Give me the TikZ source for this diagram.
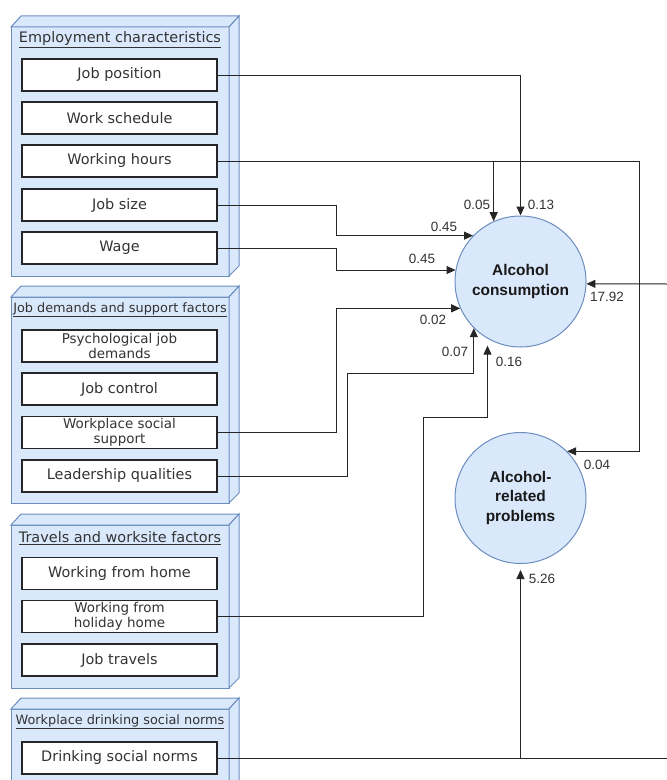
\documentclass[tikz,border=0pt]{standalone}
\usepackage{fontspec}
\usetikzlibrary{arrows.meta}
\newfontfamily\boxfont{DejaVu Sans}
\newfontfamily\numfont{Liberation Sans}
\definecolor{pkgfill}{HTML}{DAE8FC}
\definecolor{pkgline}{HTML}{6C8EBF}
\definecolor{txtgray}{HTML}{333333}

\tikzset{
  item/.style={draw=black!85, fill=white, line width=1.2bp, minimum width=195bp, minimum height=32bp,
    inner sep=0pt, align=center, text=txtgray, font=\boxfont\fontsize{14.5}{15}\selectfont},
  item2/.style={item, font=\boxfont\fontsize{13.5}{15}\selectfont},
  latent/.style={circle, draw=pkgline, fill=pkgfill, line width=1bp, minimum size=131bp, inner sep=0pt,
    align=center, text=black!90, font=\numfont\bfseries\fontsize{15.5}{19.5}\selectfont},
  coef/.style={inner sep=0pt, text=txtgray, font=\numfont\fontsize{13.5}{15}\selectfont},
  grouptitle/.style={inner sep=0pt, text=txtgray, font=\boxfont\fontsize{14.5}{16}\selectfont},
  smalltitle/.style={grouptitle, font=\boxfont\fontsize{12.9}{15}\selectfont},
  link/.style={draw=black!85, line width=1bp},
  arr/.style={link, -{Triangle[length=9bp,width=8bp]}},
}

% 3d group box: front top y, front bottom y
\newcommand\groupcube[2]{%
  \filldraw[fill=pkgfill, draw=pkgline, line width=1bp] (11,#1) rectangle (229,#2);
  \filldraw[fill=pkgfill, draw=pkgline, line width=1bp] (11,#1) -- (21,{#1-11}) -- (239,{#1-11}) -- (229,#1) -- cycle;
  \filldraw[fill=pkgfill, draw=pkgline, line width=1bp] (229,#1) -- (239,{#1-11}) -- (239,{#2-10}) -- (229,#2) -- cycle;
}

\begin{document}
\begin{tikzpicture}[x=1bp,y=-1bp]
  \clip (0,0) rectangle (667,780);
  \fill[white] (0,0) rectangle (667,780);

  % groups
  \groupcube{27}{276}
  \groupcube{297}{503}
  \groupcube{525}{688}
  \groupcube{709}{800}

  \node[grouptitle] (gEmp) at (120,40) {\underline{Employment characteristics}};
  \node[smalltitle] (gDem) at (120,310) {\underline{Job demands and support factors}};
  \node[grouptitle] (gTrv) at (120,538) {\underline{Travels and worksite factors}};
  \node[smalltitle] (gNrm) at (120,722) {\underline{Workplace drinking social norms}};

  % items
  \node[item] (jobpos) at (119.5,75) {Job position};
  \node[item] (sched) at (119.5,118) {Work schedule};
  \node[item] (hours) at (119.5,161) {Working hours};
  \node[item] (jobsize) at (119.5,205) {Job size};
  \node[item] (wage) at (119.5,248) {Wage};

  \node[item2] (psych) at (119.5,346) {Psychological job\\demands};
  \node[item] (control) at (119.5,389) {Job control};
  \node[item2] (support) at (119.5,432.5) {Workplace social\\support};
  \node[item] (lead) at (119.5,476) {Leadership qualities};

  \node[item] (home) at (119.5,573.5) {Working from home};
  \node[item2] (holiday) at (119.5,616.5) {Working from\\holiday home};
  \node[item] (travels) at (119.5,660) {Job travels};

  \node[item] (norms) at (119.5,758) {Drinking social norms};

  % outcomes
  \node[latent] (ac) at (520.5,281.5) {Alcohol\\consumption};
  \node[latent] (arp) at (520.5,498) {Alcohol-\\related\\problems};

  \coordinate (hoursR) at (639,161);
  \coordinate (edgeLow) at (667,758);
  \coordinate (edgeUp) at (667,284);

  % paths
  \draw[arr] (jobpos.east) -| (ac.north);
  \draw[arr] (hours.east) -- (hoursR) |- (arp.45);
  \draw[arr] (hours.east -| ac.114) -- (ac.114);
  \draw[arr] (jobsize.east) -- ++(119,0) |- (ac.136);
  \draw[arr] (wage.east) -- ++(119,0) |- (ac.170);
  \draw[arr] (support.east) -- ++(119,0) |- (ac.204);
  \draw[arr] (lead.east) -| (347,373) -| (ac.225);
  \draw[arr, shorten >=7bp] (holiday.east) -| (423,417) -| (ac.240);
  \draw[link] (norms.east) -- (edgeLow);
  \draw[arr, shorten >=6bp] (norms.east -| arp.south) -- (arp.south);
  \draw[arr] (edgeUp) -- (ac.-2);

  % coefficients
  \node[coef] (c1) at (541,205) {0.13};
  \node[coef] (c2) at (477,205) {0.05};
  \node[coef] (c3) at (444,227) {0.45};
  \node[coef] (c4) at (422,259) {0.45};
  \node[coef] (c5) at (433,320) {0.02};
  \node[coef] (c6) at (455,352) {0.07};
  \node[coef] (c7) at (509,362) {0.16};
  \node[coef] (c8) at (607,297) {17.92};
  \node[coef] (c9) at (597,465) {0.04};
  \node[coef] (c10) at (542,579) {5.26};
\end{tikzpicture}
\end{document}
